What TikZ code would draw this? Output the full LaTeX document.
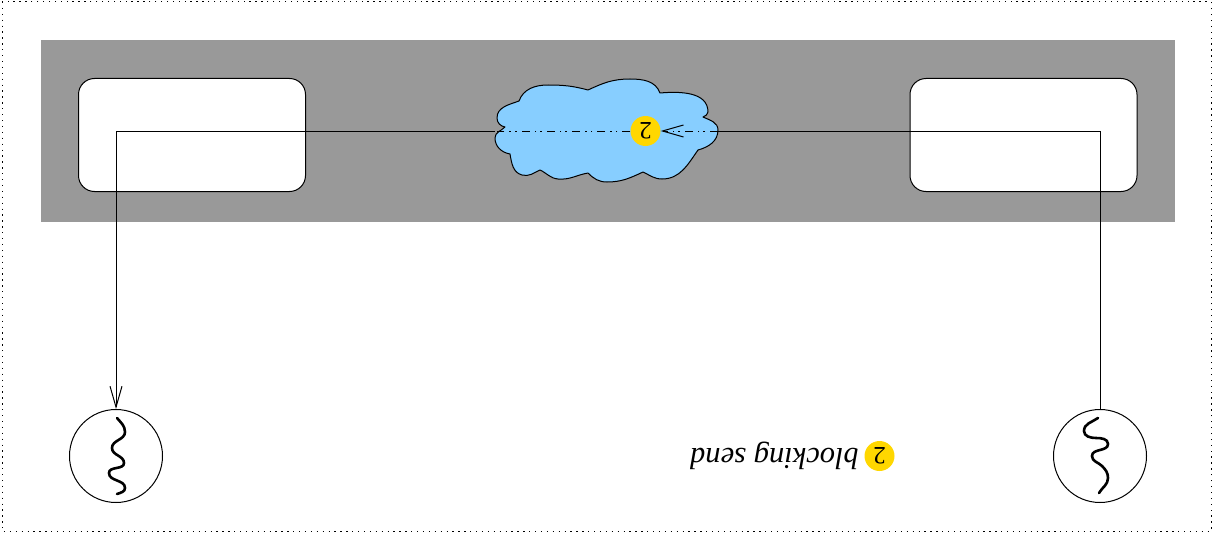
\documentclass[tikz,border=0pt]{standalone}
\usepackage{fontspec}
\setmainfont{Liberation Serif}
\usetikzlibrary{arrows.meta}
\definecolor{bandgrey}{HTML}{999999}
\definecolor{cloudblue}{HTML}{87CEFF}
\definecolor{badgegold}{HTML}{FFD700}
\tikzset{
  ln/.style={line width=1pt,black},
  boxn/.style={draw,ln,fill=white,rounded corners=16pt,minimum width=227pt,minimum height=113pt,inner sep=0pt},
  threadn/.style={draw,ln,circle,fill=white,minimum size=93pt,inner sep=0pt},
  badgen/.style={circle,fill=badgegold,minimum size=30pt,inner sep=0pt,rotate=180,font=\fontsize{25}{25}\selectfont},
  squig/.style={line width=2.6pt,line cap=round},
  flow/.style={ln,dash pattern=on 8pt off 5pt on 1.6pt off 4pt on 1.6pt off 5pt},
  barb/.style={-{Straight Barb[length=21pt,width=12pt,line width=1pt]}}
}
\begin{document}
\begin{tikzpicture}[x=1pt,y=-1pt]
\useasboundingbox (0,0) rectangle (1213,535);
\draw[line width=1pt,dash pattern=on 1.3pt off 4.6pt] (2,2) rectangle (1211,531);
\fill[bandgrey] (41,40) rectangle (1175,222);
\node[boxn] (boxL) at (192,135) {};
\node[boxn] (boxR) at (1023.5,135) {};
\draw[ln,fill=cloudblue,line join=round]
  (505,127) to[out=170,in=-90] (497,118)
  to[out=90,in=200] (519,101)
  to[out=70,in=180] (548,85)
  to[out=0,in=165] (588,90)
  to[out=25,in=180] (630,79)
  to[out=0,in=110] (660,93)
  to[out=5,in=90] (708,112)
  to[out=-90,in=30] (703,117)
  to[out=-25,in=90] (718,130)
  to[out=-90,in=15] (698,150)
  to[out=-125,in=0] (662,179)
  to[out=180,in=-25] (643,172)
  to[out=-155,in=0] (607,182)
  to[out=180,in=-45] (588,173)
  to[out=-170,in=-5] (558,179)
  to[out=175,in=-25] (540,170)
  to[out=-155,in=-15] (522,175)
  to[out=165,in=-80] (510,154)
  to[out=170,in=-90] (495,138)
  to[out=90,in=-135] (505,127)
  -- cycle;
\coordinate (cloudR) at (718,131);
\coordinate (cloudL) at (497,131);
\coordinate (cloudLout) at (495,131);
\node[threadn] (t1) at (116,456) {};
\node[threadn] (t2) at (1100,456) {};
\node[badgen] (b1) at (645.5,131) {2};
\node[badgen] (b2) at (879.5,456) {2};
\node[rotate=180,anchor=west,font=\fontsize{30.5}{31}\itshape\selectfont,inner sep=0pt] (legend) at (859,456) {blocking send};
\draw[ln] (t2.north) |- (cloudR);
\draw[flow,barb] (cloudR) -- (b1.west);
\draw[flow] (b1.east) -- (cloudL);
\draw[ln,barb] (cloudLout) -| (t1.north);
\draw[squig] (117,418) to[out=-50,in=90] (125,432) to[out=-90,in=90] (112,448) to[out=-90,in=90] (124,463) to[out=-90,in=90] (109,473) to[out=-90,in=90] (125,488) to[out=-90,in=20] (117,494);
\draw[squig] (1098,418) to[out=215,in=90] (1084,431) to[out=-90,in=180] (1096,438) to[out=0,in=90] (1108,444) to[out=-90,in=90] (1092,456) to[out=-90,in=135] (1102,466) to[out=-45,in=90] (1108,478) to[out=-90,in=60] (1099,493);
\end{tikzpicture}
\end{document}
